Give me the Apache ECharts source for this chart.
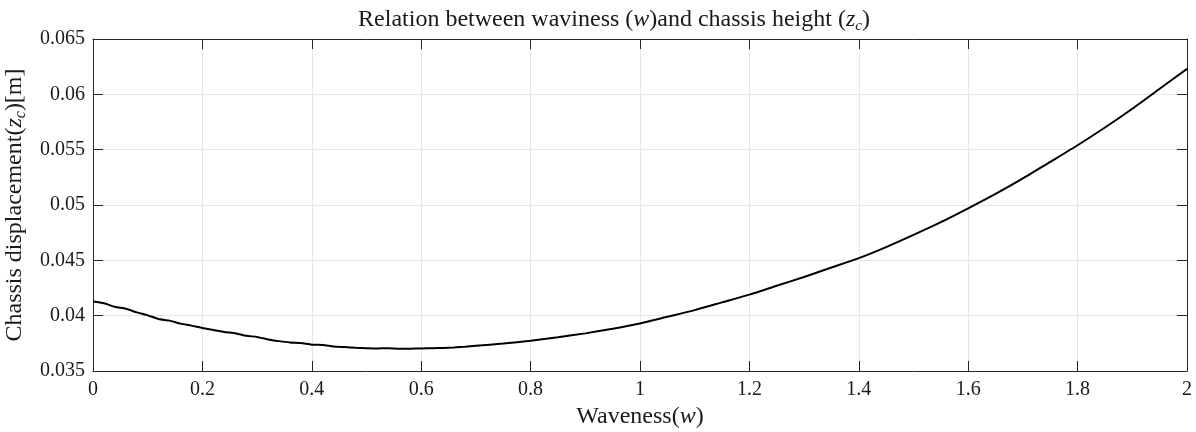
<!DOCTYPE html>
<html>
<head>
<meta charset="utf-8">
<script src="https://cdn.jsdelivr.net/npm/echarts@6/dist/echarts.min.js"></script>
<style>html,body{margin:0;padding:0;background:#fff}#c{width:1196px;height:432px}</style>
</head>
<body>
<div id="c"></div>
<script>
// waviness w
const waviness = [
  0.00,0.02,0.04,0.06,0.08,0.10,0.12,0.14,0.16,0.18,
  0.20,0.22,0.24,0.26,0.28,0.30,0.32,0.34,0.36,0.38,
  0.40,0.42,0.44,0.46,0.48,0.50,0.52,0.54,0.56,0.58,
  0.60,0.62,0.64,0.66,0.68,0.70,0.75,0.80,0.85,0.90,
  0.95,1.00,1.05,1.10,1.15,1.20,1.25,1.30,1.35,1.40,
  1.45,1.50,1.55,1.60,1.65,1.70,1.75,1.80,1.85,1.90,
  1.95,2.00
];
// chassis displacement z_c [m]
const chassisHeight = [
  0.04128,0.04112,0.04080,0.04062,0.04030,0.04003,0.03970,0.03955,0.03928,0.03910,
  0.03888,0.03870,0.03852,0.03842,0.03818,0.03808,0.03785,0.03770,0.03758,0.03752,
  0.03738,0.03735,0.03722,0.03716,0.03710,0.03706,0.03703,0.03706,0.03700,0.03702,
  0.03703,0.03706,0.03708,0.03713,0.03720,0.03728,0.03748,0.03773,0.03805,0.03840,
  0.03882,0.03930,0.03990,0.04050,0.04120,0.04190,0.04270,0.04350,0.04435,0.04520,
  0.04620,0.04730,0.04845,0.04970,0.05100,0.05240,0.05390,0.05540,0.05700,0.05870,
  0.06050,0.06230
];
const xTicks = {min: 0, max: 2, interval: 0.2};
const yTicks = {min: 0.035, max: 0.065, interval: 0.005};

const serif = '"Liberation Serif", "DejaVu Serif", serif';
const axisCol = '#262626';
const gridCol = '#e6e6e6';
const txt = '#1a1a1a';

const chart = echarts.init(document.getElementById('c'), null, {renderer: 'canvas'});
const baseX = {
  type: 'value', min: xTicks.min, max: xTicks.max, interval: xTicks.interval,
  axisLine: {show: true, onZero: false, lineStyle: {color: axisCol, width: 1}},
  axisTick: {show: true, inside: true, length: 10, lineStyle: {color: axisCol}},
  splitLine: {show: false}
};
const baseY = {
  type: 'value', min: yTicks.min, max: yTicks.max, interval: yTicks.interval,
  axisLine: {show: true, onZero: false, lineStyle: {color: axisCol, width: 1}},
  axisTick: {show: true, inside: true, length: 10, lineStyle: {color: axisCol}},
  splitLine: {show: false}
};
chart.setOption({
  animation: false,
  backgroundColor: '#fff',
  title: {
    text: '{n|Relation between waviness (}{i|w}{n|)and chassis height (}{i|z}{s|c}{n|)}',
    left: 609, top: 1, textAlign: 'center',
    textStyle: {
      fontWeight: 'normal',
      rich: {
        n: {fontFamily: serif, fontSize: 24, fontWeight: 'normal', color: txt, lineHeight: 28},
        i: {fontFamily: serif, fontSize: 24, fontWeight: 'normal', fontStyle: 'italic', color: txt, lineHeight: 28},
        s: {fontFamily: serif, fontSize: 15, fontWeight: 'normal', fontStyle: 'italic', color: txt, lineHeight: 28, verticalAlign: 'bottom', padding: [9, 0, 0, 0]}
      }
    }
  },
  grid: {left: 93, right: 9, top: 39, bottom: 61, containLabel: false, outerBoundsMode: 'none'},
  xAxis: [
    Object.assign({}, baseX, {
      position: 'bottom',
      splitLine: {show: true, lineStyle: {color: gridCol, width: 1}},
      axisLabel: {show: true, margin: 9, fontFamily: serif, fontSize: 20, color: txt},
      name: '{n|Waveness(}{i|w}{n|)}',
      nameLocation: 'middle', nameGap: 26,
      nameTextStyle: {
        rich: {
          n: {fontFamily: serif, fontSize: 24, color: txt},
          i: {fontFamily: serif, fontSize: 24, fontStyle: 'italic', color: txt}
        }
      }
    }),
    Object.assign({}, baseX, {position: 'top', axisLabel: {show: false}})
  ],
  yAxis: [
    Object.assign({}, baseY, {
      position: 'left',
      splitLine: {show: true, lineStyle: {color: gridCol, width: 1}},
      axisLabel: {show: true, margin: 8, fontFamily: serif, fontSize: 20, color: txt},
      name: '{n|Chassis displacement(}{i|z}{s|c}{n|)[m]}',
      nameLocation: 'middle', nameGap: 57, nameRotate: 90,
      nameTextStyle: {
        rich: {
          n: {fontFamily: serif, fontSize: 24, color: txt, lineHeight: 28},
          i: {fontFamily: serif, fontSize: 24, fontStyle: 'italic', color: txt, lineHeight: 28},
          s: {fontFamily: serif, fontSize: 16, fontStyle: 'italic', color: txt, lineHeight: 28, verticalAlign: 'bottom', padding: [9, 0, 0, 0]}
        }
      }
    }),
    Object.assign({}, baseY, {position: 'right', axisLabel: {show: false}})
  ],
  series: [{
    type: 'line',
    xAxisIndex: 0, yAxisIndex: 0,
    data: waviness.map((w, i) => [w, chassisHeight[i]]),
    showSymbol: false, symbol: 'none',
    smooth: 0.2,
    lineStyle: {color: '#000', width: 2},
    clip: true
  }]
});
</script>
</body>
</html>
